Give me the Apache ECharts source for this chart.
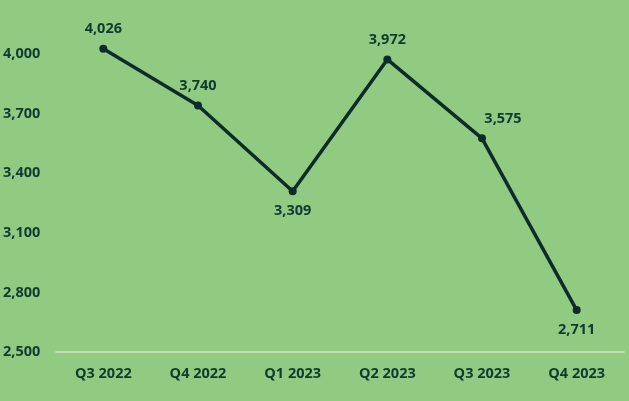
<!DOCTYPE html>
<html>
<head>
<meta charset="utf-8">
<script src="https://cdn.jsdelivr.net/npm/echarts@6/dist/echarts.min.js"></script>
<style>
html,body{margin:0;padding:0;background:#91ca81;}
#c{width:629px;height:401px;}
</style>
</head>
<body>
<div id="c"></div>
<script>
const categories = ['Q3 2022','Q4 2022','Q1 2023','Q2 2023','Q3 2023','Q4 2023'];
const values = [4026, 3740, 3309, 3972, 3575, 2711];
const labelPositions = ['top','top','bottom','top','top','bottom'];
const yTickLabels = [2500, 2800, 3100, 3400, 3700, 4000];

const textColor = '#0f3b32';
const lineColor = '#0c2c29';
const font = '"Open Sans", sans-serif';

const chart = echarts.init(document.getElementById('c'));
chart.setOption({
  backgroundColor: '#91ca81',
  animation: false,
  grid: {left: 56, right: 5, top: 34, bottom: 49},
  xAxis: {
    type: 'category',
    data: categories,
    boundaryGap: true,
    axisLine: {show: true, lineStyle: {color: '#cfe8c3', width: 1.5}},
    axisTick: {show: false},
    axisLabel: {color: textColor, fontFamily: font, fontWeight: 'bold', fontSize: 14.5, margin: 14}
  },
  yAxis: {
    type: 'value',
    min: 2500,
    max: 4100,
    interval: 100,
    splitLine: {show: false},
    axisLine: {show: false},
    axisTick: {show: false},
    axisLabel: {
      color: textColor, fontFamily: font, fontWeight: 'bold', fontSize: 14.5,
      align: 'left', margin: 53,
      formatter: function (v) {
        return yTickLabels.indexOf(v) >= 0 ? v.toLocaleString('en-US') : '';
      }
    }
  },
  series: [{
    type: 'line',
    data: values.map(function (v, i) {
      const lbl = {position: labelPositions[i]};
      if (i === 4) lbl.offset = [21, 0];
      return {value: v, label: lbl};
    }),
    symbol: 'circle',
    symbolSize: 8,
    lineStyle: {color: lineColor, width: 3.5},
    itemStyle: {color: lineColor},
    label: {
      show: true,
      color: textColor,
      fontFamily: font,
      fontWeight: 'bold',
      fontSize: 14.5,
      distance: 8,
      formatter: function (p) { return p.value.toLocaleString('en-US'); }
    }
  }]
});
</script>
</body>
</html>
